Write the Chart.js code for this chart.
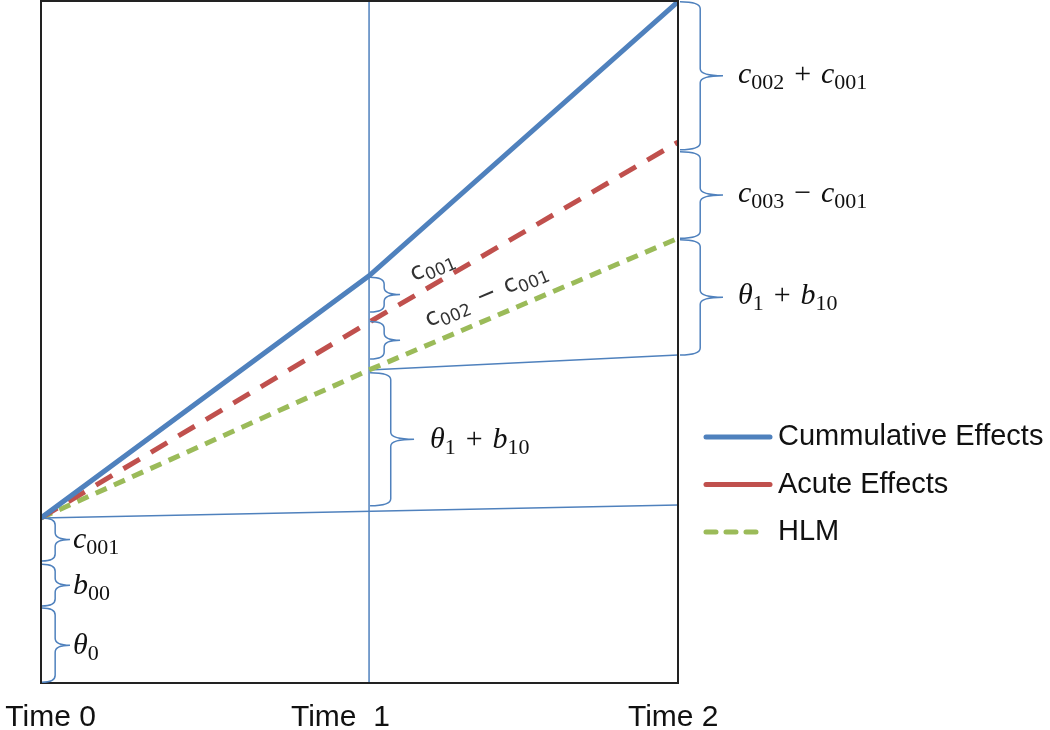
<!DOCTYPE html>
<html>
<head>
<meta charset="utf-8">
<script src="https://cdn.jsdelivr.net/npm/chart.js@4.4.1/dist/chart.umd.min.js"></script>
<style>
  html, body { margin: 0; padding: 0; background: #fff; }
  #wrap { width: 1050px; height: 730px; }
</style>
</head>
<body>
<div id="wrap"><canvas id="chart"></canvas></div>
<script>
// time axis
var timeLabels = ["Time 0", "Time  1", "Time 2"];
var timeTicks = [0.03, 0.94, 1.985];
var timeX = [0, 1.03, 2];

// series (arbitrary units, 0..100)
var seriesNames = ["Cummulative Effects", "Acute Effects", "HLM"];
var cumulative = [24.2, 59.7, 99.9];
var acute = [24.2, 52.9, 79.3];
var hlm = [24.2, 45.9, 65.2];

// thin reference lines
var baseLine0 = [24.2, 26.1];   // from Time 0 to Time 2
var baseLine1 = [45.9, 48.1];   // from Time 1 to Time 2

// brace annotations: [from, to] in y units, with their labels
var leftBraces = [[24.2, 17.9], [17.4, 11.3], [11.0, 0.1]];
var leftLabels = ["c_001", "b_00", "θ_0"];
var midBraces = [[59.5, 54.4], [53.0, 47.5], [45.5, 26.0]];
var midLabels = ["c_001", "c_002 − c_001", "θ_1 + b_10"];
var rightBraces = [[99.9, 78.2], [77.9, 65.2], [65.0, 48.1]];
var rightLabels = ["c_002 + c_001", "c_003 − c_001", "θ_1 + b_10"];

var blue = "#4F81BD", red = "#C0504D", green = "#9BBB59";

function pts(xs, ys) {
  return ys.map(function (v, i) { return { x: xs[i], y: v }; });
}

function brace(ctx, x, yA, yB, w) {
  var top = Math.min(yA, yB), bot = Math.max(yA, yB), mid = (top + bot) / 2;
  var h = w * 0.47, r = Math.min(7, (bot - top) / 4);
  ctx.beginPath();
  ctx.moveTo(x, top);
  ctx.quadraticCurveTo(x + h, top, x + h, top + r);
  ctx.lineTo(x + h, mid - r);
  ctx.quadraticCurveTo(x + h, mid, x + w, mid);
  ctx.moveTo(x + w, mid);
  ctx.quadraticCurveTo(x + h, mid, x + h, mid + r);
  ctx.lineTo(x + h, bot - r);
  ctx.quadraticCurveTo(x + h, bot, x, bot);
  ctx.stroke();
}

// letters italic, "_digits" as subscript
function drawMath(ctx, str, x, y, size, italic, family) {
  var cx = x, i = 0;
  var base = y + size * 0.3;
  while (i < str.length) {
    var ch = str[i];
    if (ch === "_") {
      var j = i + 1, sub = "";
      while (j < str.length && /[0-9]/.test(str[j])) { sub += str[j]; j++; }
      ctx.font = Math.round(size * 0.72) + "px " + family;
      ctx.fillText(sub, cx, base + size * 0.2);
      cx += ctx.measureText(sub).width;
      i = j;
    } else {
      var isLetter = /[a-zθ]/.test(ch);
      ctx.font = (isLetter && italic ? "italic " : "") + size + "px " + family;
      ctx.fillText(ch, cx, base);
      cx += ctx.measureText(ch).width + (ch === " " ? size * 0.08 : 0);
      i++;
    }
  }
}

var annotations = {
  id: "annotations",
  afterDatasetsDraw: function (chart) {
    var ctx = chart.ctx, xs = chart.scales.x, ys = chart.scales.y, a = chart.chartArea;
    ctx.save();
    // plot frame
    ctx.strokeStyle = "#222";
    ctx.lineWidth = 2;
    ctx.strokeRect(a.left, a.top, a.right - a.left, a.bottom - a.top);

    ctx.strokeStyle = blue;
    ctx.lineWidth = 1.5;
    ctx.fillStyle = "#111";
    ctx.textBaseline = "alphabetic";
    var fam = "'Liberation Serif', serif";

    // left braces
    var xl = xs.getPixelForValue(timeX[0]) + 1;
    leftBraces.forEach(function (b, i) {
      var y1 = ys.getPixelForValue(b[0]), y2 = ys.getPixelForValue(b[1]);
      brace(ctx, xl, y1, y2, 28);
      drawMath(ctx, leftLabels[i], xl + 31, (y1 + y2) / 2, 30, true, fam);
    });

    // time 1 braces
    var xm = xs.getPixelForValue(timeX[1]) + 1;
    midBraces.forEach(function (b, i) {
      var y1 = ys.getPixelForValue(b[0]), y2 = ys.getPixelForValue(b[1]);
      var w = i === 2 ? 44 : 30;
      brace(ctx, xm, y1, y2, w);
      var my = (y1 + y2) / 2;
      if (i === 2) {
        drawMath(ctx, midLabels[i], xm + w + 16, my, 30, true, fam);
      } else {
        ctx.save();
        ctx.fillStyle = "#333";
        var ox = i === 0 ? 11 : 26, oy = -20;
        ctx.translate(xm + w + ox, my + oy);
        ctx.rotate(-23 * Math.PI / 180);
        drawMath(ctx, midLabels[i], 0, 0, 24, false, "'DejaVu Sans', sans-serif");
        ctx.restore();
      }
    });

    // right braces
    var xr = xs.getPixelForValue(timeX[2]) + 2;
    rightBraces.forEach(function (b, i) {
      var y1 = ys.getPixelForValue(b[0]), y2 = ys.getPixelForValue(b[1]);
      brace(ctx, xr, y1, y2, 43);
      drawMath(ctx, rightLabels[i], xr + 58, (y1 + y2) / 2 - 2, 30, true, fam);
    });

    // legend
    var lx = 706, ly = 437, gap = 47.5;
    ctx.font = "29px 'Liberation Sans', Arial, sans-serif";
    ctx.textBaseline = "middle";
    for (var k = 0; k < 3; k++) {
      var ds = chart.data.datasets[k];
      var y = ly + k * gap;
      ctx.strokeStyle = ds.borderColor;
      ctx.lineWidth = 5;
      ctx.lineCap = "round";
      ctx.setLineDash(k === 2 ? [10, 10] : []);
      ctx.beginPath();
      ctx.moveTo(lx, y);
      ctx.lineTo(k === 2 ? 766 : 770, y);
      ctx.stroke();
      ctx.setLineDash([]);
      ctx.fillStyle = "#111";
      ctx.fillText(seriesNames[k], 778, y);
    }
    ctx.restore();
  }
};

var ctx = document.getElementById("chart").getContext("2d");
var chart = new Chart(ctx, {
  type: "line",
  data: {
    datasets: [
      { label: seriesNames[0], data: pts(timeX, cumulative), borderColor: blue, borderWidth: 5, pointRadius: 0 },
      { label: seriesNames[1], data: pts(timeX, acute), borderColor: red, borderWidth: 5, pointRadius: 0, borderDash: [19, 13] },
      { label: seriesNames[2], data: pts(timeX, hlm), borderColor: green, borderWidth: 5, pointRadius: 0, borderDash: [12, 8] },
      { label: "time1", data: [{ x: timeX[1], y: 0 }, { x: timeX[1], y: 100 }], borderColor: blue, borderWidth: 1.5, pointRadius: 0 },
      { label: "base0", data: pts([timeX[0], timeX[2]], baseLine0), borderColor: blue, borderWidth: 1.5, pointRadius: 0 },
      { label: "base1", data: pts([timeX[1], timeX[2]], baseLine1), borderColor: blue, borderWidth: 1.5, pointRadius: 0 }
    ]
  },
  options: {
    responsive: true,
    maintainAspectRatio: false,
    animation: false,
    layout: { padding: { left: 41, right: 372, top: 1, bottom: -22 } },
    plugins: { legend: { display: false }, tooltip: { enabled: false } },
    scales: {
      x: {
        type: "linear",
        min: 0,
        max: 2,
        grid: { display: false, drawTicks: false },
        border: { display: false },
        afterBuildTicks: function (scale) {
          scale.ticks = timeTicks.map(function (v) { return { value: v }; });
        },
        ticks: {
          padding: 0,
          color: "#111",
          maxRotation: 0,
          autoSkip: false,
          font: { family: "'Liberation Sans', Arial, sans-serif", size: 30, lineHeight: 2.3 },
          callback: function (v, i) { return timeLabels[i]; }
        }
      },
      y: { display: false, min: 0, max: 100 }
    }
  },
  plugins: [annotations]
});
</script>
</body>
</html>
